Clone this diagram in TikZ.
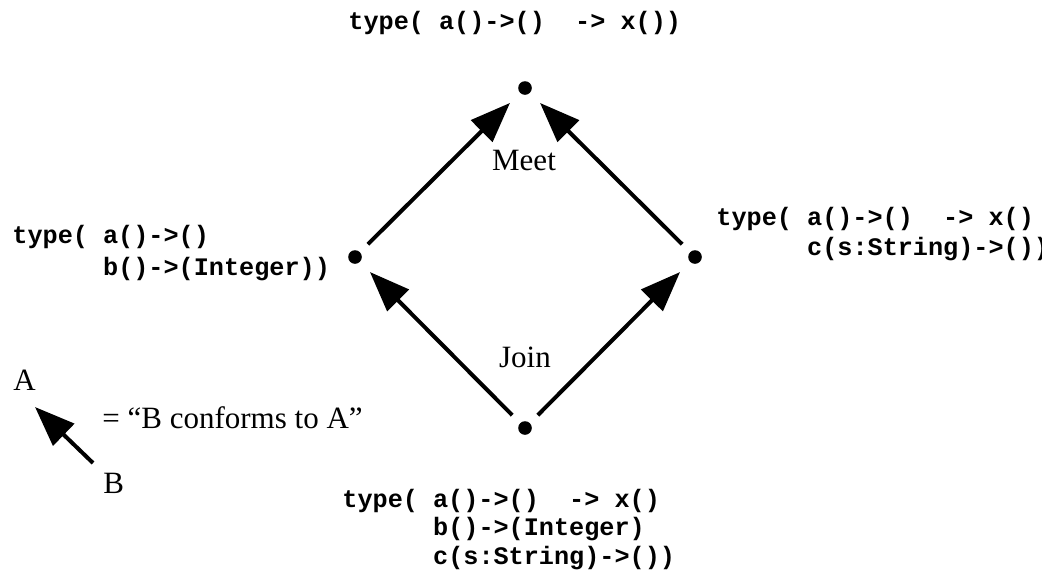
\documentclass[tikz,border=0pt]{standalone}
\usepackage{fontspec}
\setmainfont{Liberation Serif}
\setmonofont{Liberation Mono}
\usetikzlibrary{arrows.meta}
\newcommand\codelines[2]{\vtop{\baselineskip=#1\lineskiplimit=-20pt\lineskip=0pt #2}}
\begin{document}
\begin{tikzpicture}[x=0.5pt,y=-0.5pt,
  dot/.style={circle,fill=black,inner sep=0pt,minimum size=6.8pt},
  code/.style={font=\fontsize{12.6}{15}\ttfamily\bfseries,inner sep=0pt,anchor=base west},
  lbl/.style={font=\fontsize{15.5}{18}\selectfont,inner sep=0pt},
  conf/.style={line width=2pt,-{Triangle[length=20pt,width=15pt]},shorten <=5.5pt,shorten >=7pt}]
\useasboundingbox (0,0) rectangle (1047,574);
\fill[white] (0,0) rectangle (1047,574);
% lattice points
\node[dot] (top) at (525,88) {};
\node[dot] (left) at (355,257) {};
\node[dot] (right) at (695,257) {};
\node[dot] (bot) at (525,428) {};
% conformance arrows
\draw[conf] (left) -- (top);
\draw[conf] (right) -- (top);
\draw[conf] (bot) -- (left);
\draw[conf] (bot) -- (right);
% labels
\node[lbl,anchor=base] (meet) at (524,170) {Meet};
\node[lbl,anchor=base] (join) at (525,367) {Join};
% type texts
\node[code] (ttop) at (348,29) {type( a()->()~~-> x())};
\node[code] (tleft) at (12,243) {\codelines{16pt}{\hbox{type( a()->()}\hbox{~~~~~~b()->(Integer))}}};
\begin{scope}
\clip (0,0) rectangle (1041,574);
\node[code] (tright) at (716,225) {\codelines{15pt}{\hbox{type( a()->()~~-> x()}\hbox{~~~~~~c(s:String)->())}}};
\end{scope}
\node[code] (tbot) at (342,507) {\codelines{14.25pt}{\hbox{type( a()->()~~-> x()}\hbox{~~~~~~b()->(Integer)}\hbox{~~~~~~c(s:String)->())}}};
% legend
\node[lbl,anchor=base west] (la) at (13,390) {A};
\node[lbl,anchor=base west] (lb) at (103,493) {B};
\node[lbl,anchor=base west] (ltext) at (102,428) {= “B conforms to A”};
\coordinate (lfrom) at (93,463);
\coordinate (lto) at (35,407);
\draw[line width=2pt,-{Triangle[length=20pt,width=15pt]}] (lfrom) -- (lto);
\end{tikzpicture}
\end{document}
